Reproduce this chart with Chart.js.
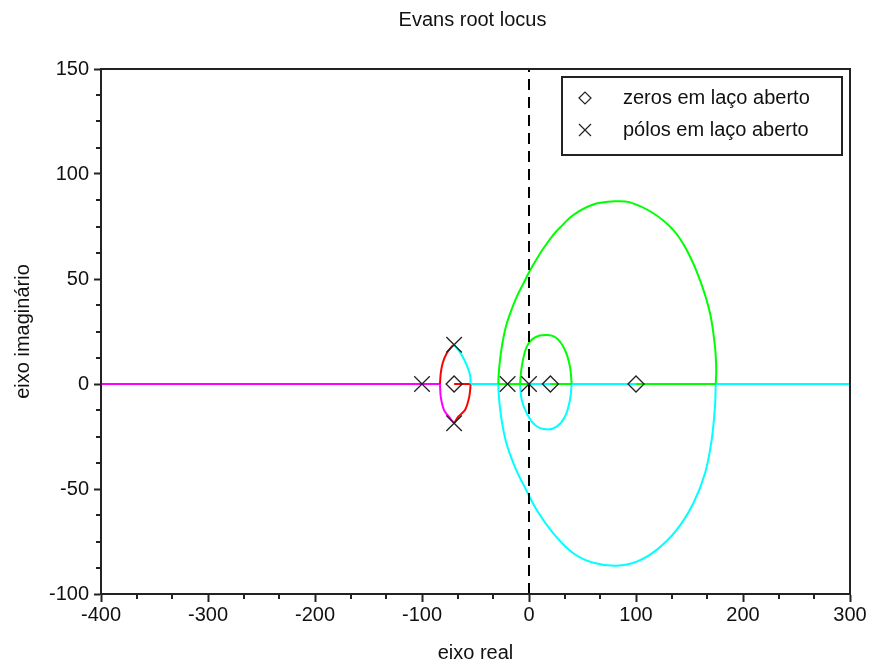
<!DOCTYPE html>
<html>
<head>
<meta charset="utf-8">
<script src="https://cdn.jsdelivr.net/npm/chart.js@4"></script>
<style>
  html, body { margin: 0; padding: 0; background: #fff; }
  #wrap { width: 869px; height: 667px; }
</style>
</head>
<body>
<div id="wrap"><canvas id="locus"></canvas></div>
<script>
// axis ticks
const xTickValues = [-400, -300, -200, -100, 0, 100, 200, 300]
const yTickValues = [-100, -50, 0, 50, 100, 150]
const xMinorDivs = 3
const yMinorDivs = 4

// open-loop poles and zeros [re, im]
const poles = [[-100, 0], [-70, 18.7], [-70, -18.7], [-20, 0], [0, 0]]
const zeros = [[-70, 0], [20, 0], [100, 0]]

// locus branches, [re, im]
const magentaReal = [[-400, 0], [-83.2, 0]]
const magentaArc = [[-83.2, 0], [-82.5, -6], [-79.4, -12.4], [-73.8, -16.3], [-70, -18.7]]
const redArcTop = [[-70, 18.7], [-72.2, 17.8], [-76.9, 14.6], [-80.7, 9.9], [-82.5, 5.1], [-83.2, 0]]
const redArcBottom = [[-54.5, 0], [-55.8, -6], [-59.8, -12.4], [-66.1, -15.6], [-70, -18.7]]
const redReal = [[-70, 0], [-54.5, 0]]
const cyanArcTop = [[-70, 18.7], [-66.1, 16.2], [-62.9, 13.8], [-58.2, 9], [-55.1, 4.3], [-54.5, 0]]
const cyanReal = [[-54.5, 0], [300, 0]]
const greenReal1 = [[-28.7, 0], [0, 0]]
const greenReal2 = [[20, 0], [39.9, 0]]
const greenReal3 = [[100, 0], [174.5, 0]]
const greenSmall = [[-8.4, 0], [-6.8, 8.2], [-2.1, 17.8], [5.6, 22.2], [16.5, 23.3], [25.9, 21.8], [33.6, 16.2], [38.3, 8.2], [39.9, 0]]
const cyanSmall = [[-8.4, 0], [-6.8, -7.6], [-2.1, -14], [5.6, -19.5], [16.5, -21.6], [25.9, -20.3], [33.6, -15.6], [38.3, -7.6], [39.9, 0]]
const greenBig = [[-28.7, 0], [-28.4, 4], [-27.2, 11], [-25, 19], [-21.5, 27.5], [-17, 34.5], [-11.5, 41.5],
  [-5.3, 47.8], [0.9, 54], [7.2, 59.5], [13.4, 64.5], [22.7, 71], [29, 74.5], [41.4, 80.5], [60.1, 85.5],
  [80, 87], [94.4, 86.5], [116.2, 81.3], [134.9, 73.3], [147.4, 63.8], [159.8, 49.5], [169.2, 33.7],
  [173.8, 17.8], [175, 6.7], [174.5, 0]]
const cyanBig = [[-28.7, 0], [-28.4, -4], [-27.2, -11], [-25, -19], [-21.5, -27.5], [-17, -34.5], [-11.5, -41.5],
  [-5.3, -47.8], [7.2, -60], [22.7, -71.1], [41.4, -80.6], [60.1, -85.1], [82, -86.5], [100.7, -84.6], [119.3, -79],
  [138, -69.5], [153.6, -56.8], [164.5, -42.5], [170.7, -26.7], [173.8, -10.8], [174.5, 0]]
const imagAxis = [[0, -100], [0, 150]]

const FONT = { family: "'Liberation Sans', Arial, sans-serif", size: 20 }
const TEXT = "#111"
const INK = "#222"

const pts = arr => arr.map(p => ({ x: p[0], y: p[1] }))
const branch = (arr, color, tension) => ({
  data: pts(arr),
  showLine: true,
  borderColor: color,
  borderWidth: 2,
  pointRadius: 0,
  tension: tension || 0,
  fill: false,
})

// box, minor ticks, title, legend
const decor = {
  id: "decor",
  afterDraw(chart) {
    const { ctx, chartArea: a, scales: { x, y } } = chart
    ctx.save()
    ctx.strokeStyle = INK
    ctx.lineWidth = 2
    ctx.strokeRect(a.left, a.top, a.right - a.left, a.bottom - a.top)

    ctx.beginPath()
    for (let i = 0; i < xTickValues.length - 1; i++) {
      const step = (xTickValues[i + 1] - xTickValues[i]) / xMinorDivs
      for (let k = 1; k < xMinorDivs; k++) {
        const px = Math.round(x.getPixelForValue(xTickValues[i] + k * step))
        ctx.moveTo(px, a.bottom)
        ctx.lineTo(px, a.bottom + 5)
      }
    }
    for (let i = 0; i < yTickValues.length - 1; i++) {
      const step = (yTickValues[i + 1] - yTickValues[i]) / yMinorDivs
      for (let k = 1; k < yMinorDivs; k++) {
        const py = Math.round(y.getPixelForValue(yTickValues[i] + k * step))
        ctx.moveTo(a.left, py)
        ctx.lineTo(a.left - 5, py)
      }
    }
    ctx.stroke()

    ctx.fillStyle = TEXT
    ctx.font = FONT.size + "px " + FONT.family
    ctx.textAlign = "center"
    ctx.textBaseline = "alphabetic"
    ctx.fillText("Evans root locus", 472.5, 26)

    // legend box
    const lx = a.right - 288, ly = a.top + 8
    ctx.strokeRect(lx, ly, 280, 78)
    ctx.textAlign = "left"
    ctx.fillText("zeros em laço aberto", lx + 61, ly + 26.5)
    ctx.fillText("pólos em laço aberto", lx + 61, ly + 58.5)
    ctx.strokeStyle = "#222"
    ctx.lineWidth = 1.2
    const cx = lx + 23, r = 6
    ctx.beginPath()
    ctx.moveTo(cx - r, ly + 21); ctx.lineTo(cx, ly + 21 - r)
    ctx.lineTo(cx + r, ly + 21); ctx.lineTo(cx, ly + 21 + r)
    ctx.closePath()
    ctx.moveTo(cx - r, ly + 53 - r); ctx.lineTo(cx + r, ly + 53 + r)
    ctx.moveTo(cx + r, ly + 53 - r); ctx.lineTo(cx - r, ly + 53 + r)
    ctx.stroke()
    ctx.restore()
  },
}

new Chart(document.getElementById("locus"), {
  type: "scatter",
  data: {
    datasets: [
      { data: pts(zeros), pointStyle: "rectRot", pointRadius: 8, borderColor: "#222", borderWidth: 1.3, backgroundColor: "rgba(0,0,0,0)" },
      { data: pts(poles), pointStyle: "crossRot", pointRadius: 11, borderColor: "#222", borderWidth: 1.3, backgroundColor: "rgba(0,0,0,0)" },
      { data: pts(imagAxis), showLine: true, borderColor: "#000", borderWidth: 2, borderDash: [11, 7], pointRadius: 0 },
      branch(greenReal1, "#00ff00"),
      branch(greenReal2, "#00ff00"),
      branch(greenReal3, "#00ff00"),
      branch(greenSmall, "#00ff00", 0.35),
      branch(greenBig, "#00ff00", 0.35),
      branch(cyanSmall, "#00ffff", 0.35),
      branch(cyanBig, "#00ffff", 0.35),
      branch(cyanArcTop, "#00ffff", 0.3),
      branch(cyanReal, "#00ffff"),
      branch(redReal, "#ff0000"),
      branch(redArcTop, "#ff0000", 0.3),
      branch(redArcBottom, "#ff0000", 0.3),
      branch(magentaArc, "#ff00ff", 0.3),
      branch(magentaReal, "#ff00ff"),
    ],
  },
  options: {
    responsive: true,
    maintainAspectRatio: false,
    animation: false,
    events: [],
    layout: { padding: { top: 69, right: 19, bottom: 0, left: 0 } },
    plugins: { legend: { display: false }, title: { display: false }, tooltip: { enabled: false } },
    scales: {
      x: {
        type: "linear",
        min: -400,
        max: 300,
        afterBuildTicks: s => { s.ticks = xTickValues.map(v => ({ value: v })) },
        afterFit: s => { s.height = 73 },
        grid: { drawOnChartArea: false, drawTicks: true, tickLength: 8, tickWidth: 2, tickColor: INK },
        border: { display: true, color: INK, width: 2 },
        ticks: { color: TEXT, font: FONT, padding: 1, maxRotation: 0, autoSkip: false },
        title: { display: true, text: "eixo real", color: TEXT, font: FONT, padding: { top: 0, bottom: 2 } },
      },
      y: {
        type: "linear",
        min: -100,
        max: 150,
        afterBuildTicks: s => { s.ticks = yTickValues.map(v => ({ value: v })) },
        afterFit: s => { s.width = 101 },
        grid: { drawOnChartArea: false, drawTicks: true, tickLength: 7, tickWidth: 2, tickColor: INK },
        border: { display: true, color: INK, width: 2 },
        ticks: { color: TEXT, font: FONT, padding: 5, autoSkip: false },
        title: { display: true, text: "eixo imaginário", color: TEXT, font: FONT, padding: { top: 11, bottom: 0 } },
      },
    },
  },
  plugins: [decor],
})
</script>
</body>
</html>
